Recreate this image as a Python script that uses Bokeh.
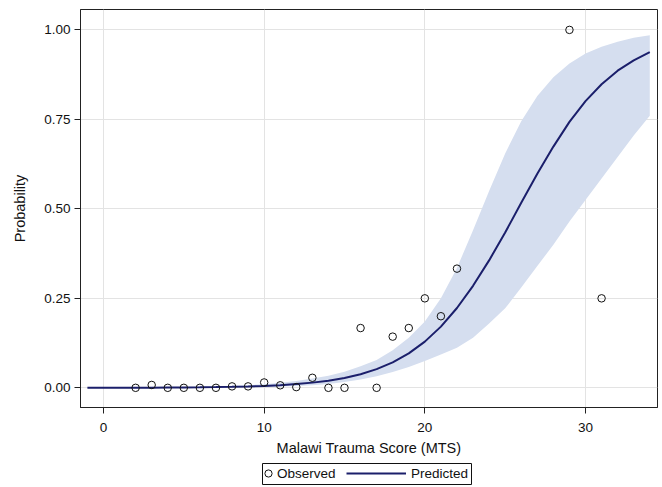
from bokeh.plotting import figure
from bokeh.layouts import column
from bokeh.models import (Legend, LegendItem, FixedTicker, Range1d, ColumnDataSource,
                          NumeralTickFormatter, BoxAnnotation)
from bokeh.embed import file_html
from bokeh.resources import INLINE

# Observed proportions by MTS
obs_x = [2, 3, 4, 5, 6, 7, 8, 9, 10, 11, 12, 13, 14, 15, 16, 17, 18, 19, 20, 21, 22, 29, 31]
obs_y = [0.0, 0.008, 0.0, 0.0, 0.0, 0.0, 0.004, 0.004, 0.015, 0.007, 0.002, 0.028, 0.0, 0.0,
         0.167, 0.0, 0.143, 0.167, 0.25, 0.2, 0.333, 1.0, 0.25]

# Predicted probability with confidence band
pred_x = list(range(-1, 35))
pred_y = [0.0001, 0.0002, 0.0003, 0.0004, 0.0005, 0.0008, 0.0011, 0.0015, 0.0020, 0.0028,
          0.0039, 0.0054, 0.0075, 0.0105, 0.0145, 0.0200, 0.0276, 0.0381, 0.0521, 0.0710,
          0.0962, 0.129, 0.171, 0.223, 0.285, 0.356, 0.434, 0.517, 0.598, 0.674,
          0.743, 0.801, 0.848, 0.886, 0.915, 0.938]
pred_lo = [0.0, 0.0, 0.0001, 0.0001, 0.0002, 0.0003, 0.0004, 0.0006, 0.0008, 0.0012,
           0.0017, 0.0025, 0.0036, 0.0052, 0.0075, 0.0110, 0.0160, 0.0230, 0.0320, 0.0440,
           0.0580, 0.075, 0.093, 0.112, 0.140, 0.180, 0.222, 0.280, 0.340, 0.400,
           0.465, 0.525, 0.585, 0.645, 0.705, 0.760]
pred_hi = [0.0004, 0.0005, 0.0007, 0.0009, 0.0012, 0.0016, 0.0022, 0.0030, 0.0040, 0.0055,
           0.0075, 0.0100, 0.0140, 0.0190, 0.0260, 0.0340, 0.0450, 0.0600, 0.0780, 0.1050,
           0.1400, 0.185, 0.250, 0.335, 0.440, 0.550, 0.655, 0.745, 0.815, 0.868,
           0.906, 0.934, 0.953, 0.967, 0.978, 0.985]

x_ticks = [0, 10, 20, 30]
y_ticks = [0, 0.25, 0.5, 0.75, 1.0]

FONT = "Liberation Sans"
DARK = "#222222"
LINE_COLOR = "#1b1f6b"

p = figure(width=660, height=461, output_backend="svg", toolbar_location=None,
           x_range=Range1d(-1.43, 34.48), y_range=Range1d(-0.055, 1.057),
           min_border_left=80, min_border_right=3, min_border_top=9, min_border_bottom=54)
p.background_fill_color = "white"
p.border_fill_color = "white"
p.outline_line_color = DARK
p.outline_line_width = 1

band_src = ColumnDataSource(dict(x=pred_x, lo=pred_lo, hi=pred_hi))
p.varea(x="x", y1="lo", y2="hi", source=band_src, fill_color="#d5deef", fill_alpha=1.0)
ln = p.line(pred_x, pred_y, line_color=LINE_COLOR, line_width=2)
sc = p.scatter(obs_x, obs_y, size=7.5, marker="circle", fill_color=None,
               line_color="#111111", line_width=1)

for ax in (p.xaxis[0], p.yaxis[0]):
    ax.axis_line_color = DARK
    ax.major_tick_line_color = DARK
    ax.major_tick_out = 6
    ax.major_tick_in = 0
    ax.minor_tick_line_color = None
    ax.major_label_text_font = FONT
    ax.major_label_text_font_size = "13.5px"
    ax.major_label_text_color = "#111111"
    ax.axis_label_text_font = FONT
    ax.axis_label_text_font_size = "14.5px"
    ax.axis_label_text_font_style = "normal"
    ax.axis_label_text_color = "#111111"

p.xaxis.ticker = FixedTicker(ticks=x_ticks)
p.yaxis.ticker = FixedTicker(ticks=y_ticks)
p.yaxis.formatter = NumeralTickFormatter(format="0.00")
p.xaxis.axis_label = "Malawi Trauma Score (MTS)"
p.yaxis.axis_label = "Probability"
p.xaxis.major_label_standoff = 9
p.xaxis.axis_label_standoff = 5
p.yaxis.major_label_standoff = 4
p.yaxis.axis_label_standoff = 13

p.xgrid.ticker = FixedTicker(ticks=x_ticks)
p.ygrid.ticker = FixedTicker(ticks=y_ticks)
p.grid.grid_line_color = "#e3e3e3"
p.grid.grid_line_width = 1

# Legend strip below the plot (pixel-scaled ranges over the same frame width)
lf = figure(width=660, height=26, output_backend="svg", toolbar_location=None,
            x_range=Range1d(0, 577), y_range=Range1d(0, 26),
            x_axis_location=None, y_axis_location=None,
            min_border_left=80, min_border_right=3, min_border_top=0, min_border_bottom=0)
lf.outline_line_color = None
lf.xgrid.visible = False
lf.ygrid.visible = False
lf.background_fill_color = "white"
lf.border_fill_color = "white"

# legend frame
lf.add_layout(BoxAnnotation(left=182, right=391, bottom=3, top=24, fill_alpha=0,
                            line_color="#111111", line_width=1, line_alpha=1))

# legend-only renderers (hidden in this strip, same styling as the plot's)
lsc = lf.scatter(obs_x, obs_y, marker="circle", fill_color=None,
                 line_color="#111111", line_width=1, visible=False)
lln = lf.line(pred_x, pred_y, line_color=LINE_COLOR, line_width=2, visible=False)


def make_legend(label, rend, loc, gw, standoff):
    lg = Legend(items=[LegendItem(label=label, renderers=[rend])], location=loc,
                orientation="horizontal")
    lg.label_text_font = FONT
    lg.label_text_font_size = "13.5px"
    lg.label_text_color = "#111111"
    lg.border_line_color = None
    lg.background_fill_alpha = 0
    lg.inactive_fill_alpha = 0
    lg.padding = 0
    lg.margin = 0
    lg.spacing = 0
    lg.glyph_width = gw
    lg.glyph_height = 18
    lg.label_height = 18
    lg.label_standoff = standoff
    return lg


lf.add_layout(make_legend("Observed", lsc, (179, 5), 18, -1), "center")
lf.add_layout(make_legend("Predicted", lln, (266, 5), 60, 5), "center")

open("out.html", "w").write(file_html(column(p, lf, spacing=0), INLINE))
